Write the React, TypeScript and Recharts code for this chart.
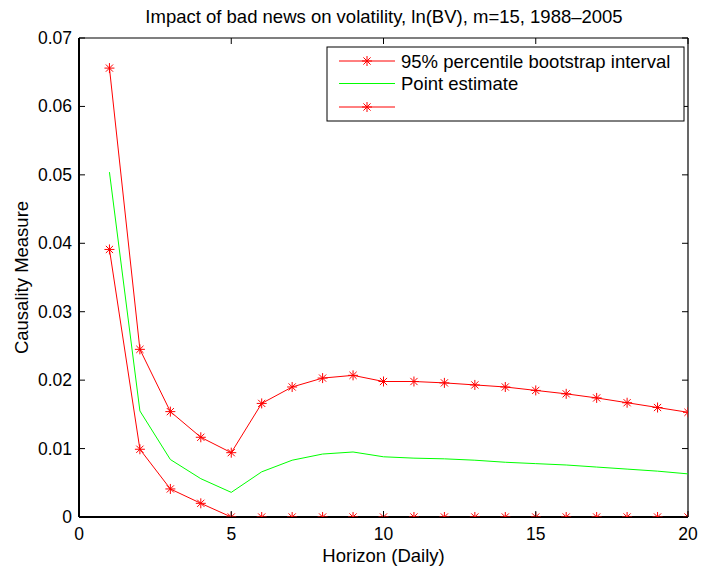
import React from 'react';
import { LineChart, Line, XAxis, YAxis, ReferenceLine } from 'recharts';

const horizons = [1, 2, 3, 4, 5, 6, 7, 8, 9, 10, 11, 12, 13, 14, 15, 16, 17, 18, 19, 20];
const upperBound = [0.0656, 0.0245, 0.0154, 0.01165, 0.0094, 0.0166, 0.019, 0.0203, 0.0207, 0.0198, 0.0198, 0.0196, 0.0193, 0.019, 0.0185, 0.018, 0.0174, 0.0167, 0.016, 0.0153];
const pointEstimate = [0.0504, 0.0155, 0.0084, 0.0056, 0.0036, 0.0066, 0.0083, 0.0092, 0.0095, 0.0088, 0.0086, 0.0085, 0.0083, 0.008, 0.0078, 0.0076, 0.0073, 0.007, 0.0067, 0.0063];
const lowerBound = [0.0391, 0.0099, 0.0041, 0.002, 0, 0, 0, 0, 0, 0, 0, 0, 0, 0, 0, 0, 0, 0, 0, 0];

const xTicks = [0, 5, 10, 15, 20];
const yTicks = [0, 0.01, 0.02, 0.03, 0.04, 0.05, 0.06, 0.07];

const seriesNames = ['95% percentile bootstrap interval', 'Point estimate', ''];
const titleText = 'Impact of bad news on volatility, ln(BV), m=15, 1988\u20132005';
const xLabel = 'Horizon (Daily)';
const yLabel = 'Causality Measure';

const data = horizons.map((h, i) => ({
  h,
  upper: upperBound[i],
  point: pointEstimate[i],
  lower: lowerBound[i],
}));

const FONT = '"Liberation Sans", Arial, Helvetica, sans-serif';
const W = 702;
const H = 572;
const PL = 79;
const PR = 688;
const PT = 38;
const PB = 517;
const TICK = 6;

const Star = (props: any) => {
  const { cx, cy } = props;
  if (cx == null || cy == null) return null;
  const r = 5;
  const d = r * 0.72;
  return (
    <g stroke="#ff0000" strokeWidth={1}>
      <line x1={cx - r} y1={cy} x2={cx + r} y2={cy} />
      <line x1={cx} y1={cy - r} x2={cx} y2={cy + r} />
      <line x1={cx - d} y1={cy - d} x2={cx + d} y2={cy + d} />
      <line x1={cx - d} y1={cy + d} x2={cx + d} y2={cy - d} />
    </g>
  );
};

const YTick = (props: any) => {
  const { y, payload } = props;
  const v = payload.value;
  const label = v === 0 ? '0' : v.toFixed(2);
  return (
    <g>
      <text x={PL - 7} y={y} textAnchor="end" dominantBaseline="central" fontSize={17.5} fontFamily={FONT} fill="#000">
        {label}
      </text>
      <line x1={PL} x2={PL + TICK} y1={y} y2={y} stroke="#000" strokeWidth={1} />
      <line x1={PR} x2={PR - TICK} y1={y} y2={y} stroke="#000" strokeWidth={1} />
    </g>
  );
};

const XTick = (props: any) => {
  const { x, payload } = props;
  return (
    <g>
      <text x={x} y={540} textAnchor="middle" fontSize={17.5} fontFamily={FONT} fill="#000">
        {String(payload.value)}
      </text>
      <line x1={x} x2={x} y1={PB} y2={PB - TICK} stroke="#000" strokeWidth={1} />
      <line x1={x} x2={x} y1={PT} y2={PT + TICK} stroke="#000" strokeWidth={1} />
    </g>
  );
};

const LegendBox = () => {
  const left = 327;
  const top = 47;
  const w = 357;
  const h = 74;
  const rows = [
    { name: seriesNames[0], color: '#ff0000', star: true, y: 14 },
    { name: seriesNames[1], color: '#00ff00', star: false, y: 36.5 },
    { name: seriesNames[2], color: '#ff0000', star: true, y: 60 },
  ];
  return (
    <svg width={w + 2} height={h + 2} style={{ position: 'absolute', left: left - 1, top: top - 1, pointerEvents: 'none' }}>
      <rect x={1} y={1} width={w} height={h} fill="#fff" stroke="#000" strokeWidth={1} />
      {rows.map((r, i) => (
        <g key={i}>
          <line x1={13} x2={69} y1={r.y + 1} y2={r.y + 1} stroke={r.color} strokeWidth={1} />
          {r.star ? <Star cx={41} cy={r.y + 1} /> : null}
          {r.name ? (
            <text x={75} y={r.y + 1} dominantBaseline="central" fontSize={18.5} fontFamily={FONT} fill="#000">
              {r.name}
            </text>
          ) : null}
        </g>
      ))}
    </svg>
  );
};

export default function App() {
  return (
    <div style={{ position: 'absolute', left: 0, top: 0, width: W, height: H, background: '#fff' }}>
      <LineChart width={W} height={H} data={data} margin={{ top: PT, right: W - PR, bottom: 0, left: 0 }}>
        <XAxis
          dataKey="h"
          type="number"
          domain={[0, 20]}
          ticks={xTicks}
          height={H - PB}
          tickLine={false}
          tick={<XTick />}
          axisLine={{ stroke: '#000', strokeWidth: 2 }}
          allowDataOverflow
        />
        <YAxis
          type="number"
          domain={[0, 0.07]}
          ticks={yTicks}
          width={PL}
          tickLine={false}
          tick={<YTick />}
          axisLine={{ stroke: '#000', strokeWidth: 2 }}
          allowDataOverflow
        />
        <ReferenceLine y={0.07} stroke="#000" strokeWidth={1.2} />
        <ReferenceLine x={20} stroke="#000" strokeWidth={1.2} />
        <Line type="linear" dataKey="upper" name={seriesNames[0]} stroke="#ff0000" strokeWidth={1} dot={<Star />} isAnimationActive={false} />
        <Line type="linear" dataKey="point" name={seriesNames[1]} stroke="#00ff00" strokeWidth={1} dot={false} isAnimationActive={false} />
        <Line type="linear" dataKey="lower" name={seriesNames[2]} stroke="#ff0000" strokeWidth={1} dot={<Star />} isAnimationActive={false} />
        <text x={384} y={22.5} textAnchor="middle" fontSize={18.5} fontFamily={FONT} fill="#000">
          {titleText}
        </text>
        <text x={383.5} y={562} textAnchor="middle" fontSize={18.5} fontFamily={FONT} fill="#000">
          {xLabel}
        </text>
        <text x={28} y={277.5} textAnchor="middle" fontSize={18.5} fontFamily={FONT} fill="#000" transform="rotate(-90, 28, 277.5)">
          {yLabel}
        </text>
      </LineChart>
      <LegendBox />
    </div>
  );
}
